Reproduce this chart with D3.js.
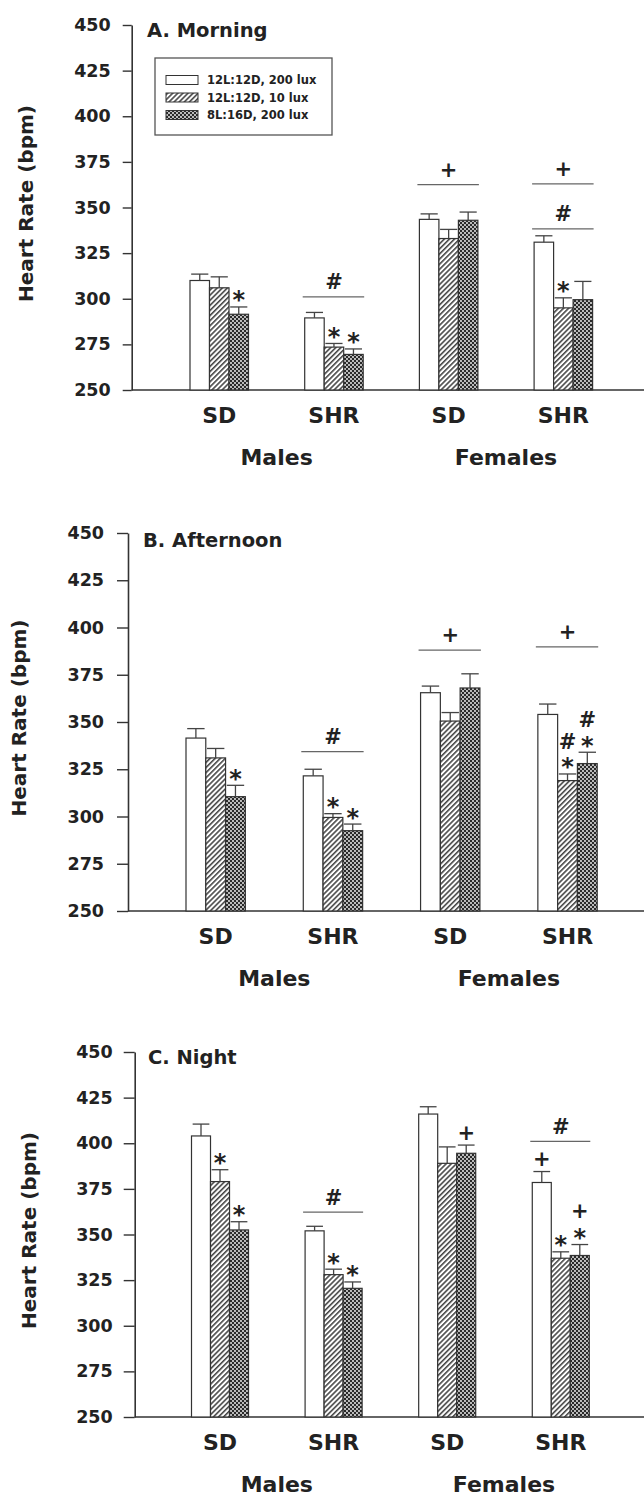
<!DOCTYPE html>
<html><head><meta charset="utf-8">
<script src="https://cdn.jsdelivr.net/npm/d3@7"></script>
<style>body{margin:0;background:#fff} svg{display:block}</style>
</head><body>
<svg id="chart" width="644" height="1497"></svg>
<script>
// ---------- DATA ----------
const periods = ["A. Morning", "B. Afternoon", "C. Night"];
const strains = ["SD", "SHR", "SD", "SHR"];
const sexes = ["Males", "Females"];
const lightConditions = ["12L:12D, 200 lux", "12L:12D, 10 lux", "8L:16D, 200 lux"];
const yTicks = [250, 275, 300, 325, 350, 375, 400, 425, 450];
const yLabel = "Heart Rate (bpm)";

// means per light condition (rows) for groups SD-M, SHR-M, SD-F, SHR-F
const morningMean = [[310, 289.5, 343.5, 331], [306, 273.5, 333, 295], [291.5, 269.5, 343, 299.5]];
const morningSE   = [[3.5, 3, 3, 3.5], [6, 2, 5, 5.5], [4, 3, 4.5, 10]];
const afternoonMean = [[341.5, 321.5, 365.5, 354], [331, 299.5, 350.5, 319], [310.5, 292.5, 368, 328]];
const afternoonSE   = [[5, 3.5, 3.5, 5.5], [5, 2, 4.5, 3.5], [6, 3.5, 7.5, 6]];
const nightMean = [[404, 352, 416, 378.5], [379, 328, 389, 337], [352.5, 320.5, 394.5, 338.5]];
const nightSE   = [[6.5, 2.5, 4, 6], [6.5, 3, 9, 3.5], [4.5, 3.5, 4.5, 6]];

// significance lines over a group (value in bpm)
const groupMarks = [
  {panel: 0, group: 1, value: 301, symbol: "#"},
  {panel: 0, group: 2, value: 362.5, symbol: "+"},
  {panel: 0, group: 3, value: 363, symbol: "+"},
  {panel: 0, group: 3, value: 338.3, symbol: "#"},
  {panel: 1, group: 1, value: 334.3, symbol: "#"},
  {panel: 1, group: 2, value: 388, symbol: "+"},
  {panel: 1, group: 3, value: 389.7, symbol: "+"},
  {panel: 2, group: 1, value: 362.3, symbol: "#"},
  {panel: 2, group: 3, value: 401, symbol: "#"}
];
// symbols stacked above individual bars
const barMarks = [
  {panel: 0, group: 0, series: 2, symbols: ["*"]},
  {panel: 0, group: 1, series: 1, symbols: ["*"]},
  {panel: 0, group: 1, series: 2, symbols: ["*"]},
  {panel: 0, group: 3, series: 1, symbols: ["*"]},
  {panel: 1, group: 0, series: 2, symbols: ["*"]},
  {panel: 1, group: 1, series: 1, symbols: ["*"]},
  {panel: 1, group: 1, series: 2, symbols: ["*"]},
  {panel: 1, group: 3, series: 1, symbols: ["*", "#"]},
  {panel: 1, group: 3, series: 2, symbols: ["*", "#"]},
  {panel: 2, group: 0, series: 1, symbols: ["*"]},
  {panel: 2, group: 0, series: 2, symbols: ["*"]},
  {panel: 2, group: 1, series: 1, symbols: ["*"]},
  {panel: 2, group: 1, series: 2, symbols: ["*"]},
  {panel: 2, group: 2, series: 2, symbols: ["+"]},
  {panel: 2, group: 3, series: 0, symbols: ["+"]},
  {panel: 2, group: 3, series: 1, symbols: ["*"]},
  {panel: 2, group: 3, series: 2, symbols: ["*", "+"]}
];

const panelMeans = [morningMean, afternoonMean, nightMean];
const panelSE = [morningSE, afternoonSE, nightSE];

// ---------- LAYOUT ----------
const layouts = [
  {axisX: 131.7, yTop: 25, yBase: 390, x0: 190, x1: 592.6, pad: 0.49, tick: 9, tpad: 12, titleX: 147, titleY: 37, ylabX: 33},
  {axisX: 128, yTop: 533, yBase: 911, x0: 186, x1: 597.2, pad: 0.494, tick: 11, tpad: 13, titleX: 143, titleY: 547, ylabX: 26},
  {axisX: 134.7, yTop: 1052, yBase: 1417, x0: 191.5, x1: 589.3, pad: 0.498, tick: 11, tpad: 11, titleX: 148, titleY: 1064, ylabX: 36}
];
const FONT = "'DejaVu Sans', Arial, sans-serif";
const INK = "#222";

const svg = d3.select("#chart");
const defs = svg.append("defs");
const hp = defs.append("pattern").attr("id", "hatch").attr("patternUnits", "userSpaceOnUse")
  .attr("width", 3.6).attr("height", 3.6).attr("patternTransform", "rotate(45)");
hp.append("rect").attr("width", 3.6).attr("height", 3.6).attr("fill", "#fff");
hp.append("line").attr("x1", 0.8).attr("y1", 0).attr("x2", 0.8).attr("y2", 3.6)
  .attr("stroke", "#3a3a3a").attr("stroke-width", 1.5);
const dp = defs.append("pattern").attr("id", "dots").attr("patternUnits", "userSpaceOnUse")
  .attr("width", 4).attr("height", 4);
dp.append("rect").attr("width", 4).attr("height", 4).attr("fill", "#2a2a2a");
dp.append("circle").attr("cx", 1).attr("cy", 1).attr("r", 0.9).attr("fill", "#fff");
dp.append("circle").attr("cx", 3).attr("cy", 3).attr("r", 0.9).attr("fill", "#fff");
const fills = ["#fff", "url(#hatch)", "url(#dots)"];

const symCenter = {"*": 0.56, "+": 0.33, "#": 0.36};
const symSize = {"*": 24, "+": 21, "#": 21};
function drawSymbol(g, x, cy, s) {
  const fs = symSize[s];
  g.append("text").attr("x", x).attr("y", cy + symCenter[s] * fs)
    .attr("text-anchor", "middle").attr("font-family", FONT).attr("font-weight", "bold")
    .attr("font-size", fs).attr("fill", INK).text(s);
}

periods.forEach((title, p) => {
  const L = layouts[p];
  const means = panelMeans[p], ses = panelSE[p];
  const y = d3.scaleLinear().domain([250, 450]).range([L.yBase, L.yTop]);
  const xg = d3.scaleBand().domain(d3.range(strains.length)).range([L.x0, L.x1])
    .paddingInner(L.pad).paddingOuter(0);
  const xs = d3.scaleBand().domain(d3.range(lightConditions.length)).range([0, xg.bandwidth()]);
  const g = svg.append("g");

  // y axis
  const ax = g.append("g").attr("transform", `translate(${L.axisX},0)`)
    .call(d3.axisLeft(y).tickValues(yTicks).tickSize(L.tick).tickSizeOuter(0).tickPadding(L.tpad));
  ax.select(".domain").attr("stroke", "#333").attr("stroke-width", 1.6);
  ax.selectAll(".tick line").attr("stroke", "#333").attr("stroke-width", 1.4);
  ax.selectAll(".tick text").attr("font-family", FONT).attr("font-weight", "bold")
    .attr("font-size", 17.5).attr("fill", INK);

  // baseline
  g.append("line").attr("x1", L.axisX).attr("x2", 644).attr("y1", y(250)).attr("y2", y(250))
    .attr("stroke", "#333").attr("stroke-width", 1.6);

  // title
  g.append("text").attr("x", L.titleX).attr("y", L.titleY).attr("font-family", FONT)
    .attr("font-weight", "bold").attr("font-size", 19.5).attr("fill", INK).text(title);

  // y label
  g.append("text").attr("transform", `translate(${L.ylabX},${(L.yTop + L.yBase) / 2 - 4}) rotate(-90)`)
    .attr("text-anchor", "middle").attr("font-family", FONT).attr("font-weight", "bold")
    .attr("font-size", 20).attr("fill", INK).text(yLabel);

  // bars + error bars
  lightConditions.forEach((lc, s) => {
    strains.forEach((st, gi) => {
      const bx = xg(gi) + xs(s), bw = xs.bandwidth();
      const v = means[s][gi], e = ses[s][gi];
      g.append("rect").attr("x", bx).attr("y", y(v)).attr("width", bw).attr("height", y(250) - y(v))
        .attr("fill", fills[s]).attr("stroke", "#333").attr("stroke-width", 1.2);
      const cx = bx + bw / 2, cw = bw * 0.88;
      g.append("line").attr("x1", cx).attr("x2", cx).attr("y1", y(v)).attr("y2", y(v + e))
        .attr("stroke", "#444").attr("stroke-width", 1.3);
      g.append("line").attr("x1", cx - cw / 2).attr("x2", cx + cw / 2).attr("y1", y(v + e)).attr("y2", y(v + e))
        .attr("stroke", "#444").attr("stroke-width", 1.3);
    });
  });

  // bar-level symbols
  barMarks.filter(m => m.panel === p).forEach(m => {
    const bx = xg(m.group) + xs(m.series) + xs.bandwidth() / 2;
    const top = y(means[m.series][m.group] + ses[m.series][m.group]);
    m.symbols.forEach((s, k) => drawSymbol(g, bx, top - 12 - k * 21, s));
  });

  // group-level lines
  groupMarks.filter(m => m.panel === p).forEach(m => {
    const gx = xg(m.group), ly = y(m.value);
    g.append("line").attr("x1", gx - 2).attr("x2", gx + xg.bandwidth() + 1).attr("y1", ly).attr("y2", ly)
      .attr("stroke", "#666").attr("stroke-width", 1.3);
    drawSymbol(g, gx + xg.bandwidth() / 2, ly - 15, m.symbol);
  });

  // x labels
  strains.forEach((st, gi) => {
    g.append("text").attr("x", xg(gi) + xg.bandwidth() / 2).attr("y", L.yBase + 33)
      .attr("text-anchor", "middle").attr("font-family", FONT).attr("font-weight", "bold")
      .attr("font-size", 22).attr("fill", INK).text(st);
  });
  sexes.forEach((sx, k) => {
    const c = (xg(2 * k) + xg(2 * k + 1) + xg.bandwidth()) / 2;
    g.append("text").attr("x", c).attr("y", L.yBase + 75)
      .attr("text-anchor", "middle").attr("font-family", FONT).attr("font-weight", "bold")
      .attr("font-size", 22).attr("fill", INK).text(sx);
  });

  // legend (panel A only)
  if (p === 0) {
    const lg = g.append("g");
    lg.append("rect").attr("x", 155).attr("y", 58).attr("width", 177).attr("height", 77)
      .attr("fill", "#fff").attr("stroke", "#555").attr("stroke-width", 1.3);
    const rows = [80, 97.5, 115];
    lightConditions.forEach((lc, s) => {
      lg.append("rect").attr("x", 166).attr("y", rows[s] - 4.5).attr("width", 32).attr("height", 9)
        .attr("fill", fills[s]).attr("stroke", "#333").attr("stroke-width", 1);
      lg.append("text").attr("x", 207).attr("y", rows[s] + 4).attr("font-family", FONT)
        .attr("font-weight", "bold").attr("font-size", 11.5).attr("fill", INK).text(lc);
    });
  }
});
</script>
</body></html>
